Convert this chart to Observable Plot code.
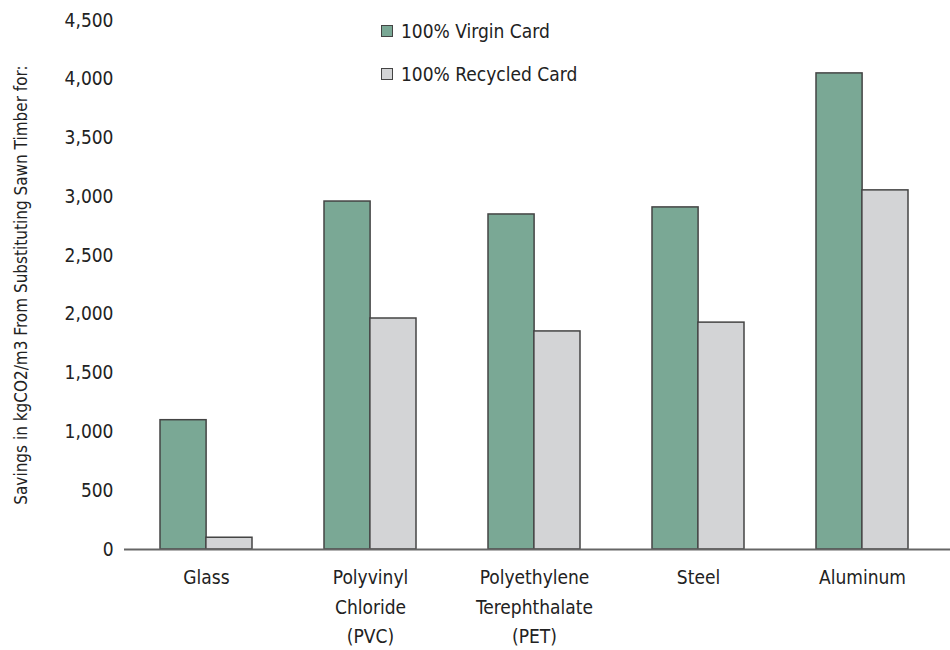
<!DOCTYPE html>
<html>
<head>
<meta charset="utf-8">
<script src="https://cdn.jsdelivr.net/npm/d3@7"></script>
<script src="https://cdn.jsdelivr.net/npm/@observablehq/plot@0.6"></script>
<style>
  body { margin: 0; background: #fff; }
  #wrap { position: relative; width: 950px; height: 650px; font-family: "Liberation Sans Narrow", "DejaVu Sans Condensed", sans-serif; color: #222; }
  #legend { position: absolute; left: 381px; top: 16px; font-size: 19px; }
  .item { display: flex; align-items: center; height: 29px; margin-bottom: 14px; }
  .sw { width: 10px; height: 10px; border: 1px solid #444; margin-right: 8px; }
</style>
</head>
<body>
<div id="wrap"></div>
<script>
const categories = ["Glass", "Polyvinyl\nChloride\n(PVC)", "Polyethylene\nTerephthalate\n(PET)", "Steel", "Aluminum"];
const virgin = [1100, 2960, 2850, 2910, 4050];
const recycled = [100, 1965, 1855, 1930, 3055];
const seriesNames = ["100% Virgin Card", "100% Recycled Card"];
const seriesColors = ["#7aa895", "#d3d4d6"];
const yTicks = [0, 500, 1000, 1500, 2000, 2500, 3000, 3500, 4000, 4500];

const rows = categories.map((c, i) => ({category: c, virgin: virgin[i], recycled: recycled[i]}));

const chart = Plot.plot({
  width: 950,
  height: 650,
  marginLeft: 124,
  marginRight: 6,
  marginTop: 20,
  marginBottom: 101,
  style: {fontFamily: "'Liberation Sans Narrow', 'DejaVu Sans Condensed', sans-serif", fontSize: "19px", color: "#222", background: "white"},
  x: {domain: categories, paddingInner: 0.44, paddingOuter: 0.22},
  y: {domain: [0, 4500]},
  marks: [
    Plot.barY(rows, {x: "category", y: "virgin", fill: seriesColors[0], stroke: "#444", strokeWidth: 1.5, insetRight: 45.9}),
    Plot.barY(rows, {x: "category", y: "recycled", fill: seriesColors[1], stroke: "#444", strokeWidth: 1.5, insetLeft: 45.9}),
    Plot.ruleY([0], {stroke: "#666", strokeWidth: 2, insetRight: -6}),
    Plot.axisY({ticks: yTicks, tickFormat: d3.format(","), tickSize: 0, tickPadding: 11, fontSize: 19,
      label: "Savings in kgCO2/m3 From Substituting Sawn Timber for:", labelAnchor: "center", labelArrow: "none", labelOffset: 110}),
    Plot.axisX({tickSize: 0, tickPadding: 14, lineHeight: 1.55, fontSize: 19, label: null})
  ]
});
chart.querySelectorAll("[aria-label='y-axis label'] text, [aria-label='y-axis label']").forEach(t => t.setAttribute("font-size", "17"));
document.getElementById("wrap").appendChild(chart);

const legend = document.createElement("div");
legend.id = "legend";
legend.innerHTML = seriesNames.map((s, i) =>
  `<div class="item"><span class="sw" style="background:${seriesColors[i]}"></span>${s}</div>`).join("");
document.getElementById("wrap").appendChild(legend);
</script>
</body>
</html>
